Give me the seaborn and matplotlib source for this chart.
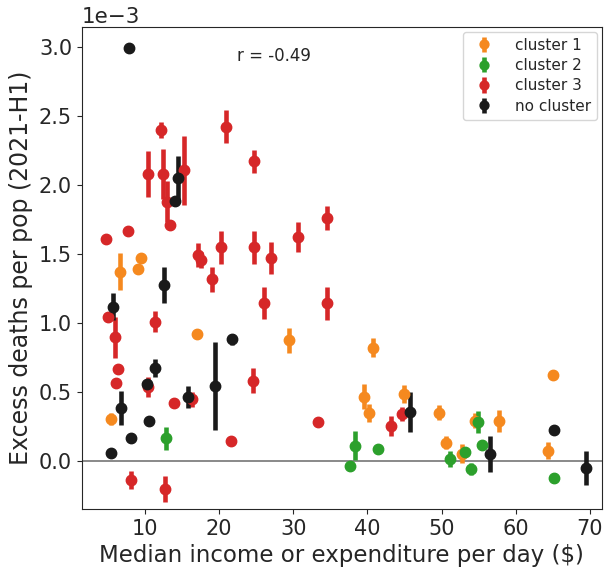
import matplotlib
matplotlib.use("Agg")
import matplotlib.pyplot as plt
import seaborn as sns
import numpy as np

sns.set_style("ticks")

# values, y in units of 1e-3
c1_x = [6.63, 9.46, 9.1, 5.38, 16.97, 29.45, 40.7, 65.0, 39.5, 45.0, 40.2, 49.6, 54.5, 57.7, 50.6, 52.7, 64.35]
c1_y = [1.37, 1.467, 1.387, 0.30, 0.918, 0.873, 0.82, 0.62, 0.464, 0.483, 0.343, 0.348, 0.288, 0.29, 0.13, 0.049, 0.073]
c1_e = [0.135, 0, 0, 0.042, 0, 0.09, 0.07, 0, 0.09, 0.065, 0.065, 0.055, 0.055, 0.08, 0.045, 0.07, 0.06]

c2_x = [12.9, 38.3, 41.4, 54.9, 55.4, 53.1, 51.2, 37.6, 54.0, 65.2]
c2_y = [0.162, 0.109, 0.082, 0.283, 0.114, 0.065, 0.01, -0.036, -0.062, -0.128]
c2_e = [0.082, 0.105, 0, 0.08, 0, 0, 0.057, 0, 0.045, 0.035]

c3_x = [12.16, 20.9, 24.7, 10.45, 12.4, 15.3, 13.0, 13.4, 4.74, 7.75, 17.2, 17.6, 20.3, 24.7,
        27.0, 30.7, 34.6, 19.0, 26.1, 34.6, 5.06, 5.96, 11.35, 6.4, 6.09, 10.45, 24.6, 16.3,
        13.9, 21.6, 33.4, 44.7, 43.2, 8.07, 12.7]
c3_y = [2.40, 2.42, 2.17, 2.08, 2.08, 2.107, 1.877, 1.708, 1.61, 1.665, 1.49, 1.455, 1.547, 1.547,
        1.467, 1.62, 1.76, 1.314, 1.145, 1.14, 1.04, 0.894, 1.007, 0.662, 0.565, 0.536, 0.58, 0.445,
        0.416, 0.14, 0.283, 0.338, 0.251, -0.14, -0.207]
c3_e = [0.057, 0.12, 0.085, 0.165, 0.18, 0.25, 0.15, 0, 0, 0, 0.088, 0.06, 0.12, 0.12,
        0.115, 0.11, 0.085, 0.09, 0.115, 0.12, 0, 0.15, 0.076, 0, 0, 0.072, 0.093, 0.055,
        0, 0, 0, 0.05, 0.07, 0.064, 0.093]

nc_x = [7.9, 14.5, 14.05, 12.56, 5.65, 21.8, 11.35, 10.3, 19.43, 15.75, 6.72, 10.58, 8.07, 5.38,
        45.7, 65.1, 56.5, 69.5]
nc_y = [2.99, 2.046, 1.884, 1.273, 1.116, 0.88, 0.67, 0.556, 0.541, 0.464, 0.38, 0.29, 0.162, 0.058,
        0.355, 0.222, 0.049, -0.055]
nc_e = [0, 0.16, 0, 0.13, 0.1, 0.04, 0.063, 0, 0.32, 0.08, 0.125, 0, 0, 0,
        0.145, 0, 0.13, 0.125]

groups = [
    ("cluster 1", c1_x, c1_y, c1_e, "#f5891f"),
    ("cluster 2", c2_x, c2_y, c2_e, "#2ca02c"),
    ("cluster 3", c3_x, c3_y, c3_e, "#d62728"),
    ("no cluster", nc_x, nc_y, nc_e, "#1a1a1a"),
]

fig = plt.figure(figsize=(6.06, 5.73), dpi=100)
ax = fig.add_axes([0.135, 0.112, 0.858, 0.841])

ax.axhline(0, color="grey", lw=1.3, zorder=1)

for name, x, y, e, col in groups:
    y = np.array(y) * 1e-3
    e = np.array(e) * 1e-3
    ax.errorbar(x, y, yerr=e, fmt="o", color=col, ms=7.5, elinewidth=3.3,
                capsize=0, label=name, zorder=3)

ax.set_xlim(1.5, 71.6)
ax.set_ylim(-0.35e-3, 3.145e-3)
ax.set_xticks([10, 20, 30, 40, 50, 60, 70])
ax.set_yticks(np.arange(0, 3.01e-3, 0.5e-3))
ax.ticklabel_format(axis="y", style="sci", scilimits=(-3, -3))
ax.yaxis.get_offset_text().set_fontsize(15.5)
ax.tick_params(labelsize=15)

ax.set_xlabel("Median income or expenditure per day ($)", fontsize=16.5)
ax.set_ylabel("Excess deaths per pop (2021-H1)", fontsize=17)
ax.text(0.37, 0.94, "r = -0.49", transform=ax.transAxes, ha="center", va="center", fontsize=12)

ax.legend(loc="upper right", fontsize=11, frameon=True, handletextpad=1.0,
          markerscale=0.85, borderaxespad=0.3, labelspacing=0.35)

fig.savefig("out.png", dpi=100)
